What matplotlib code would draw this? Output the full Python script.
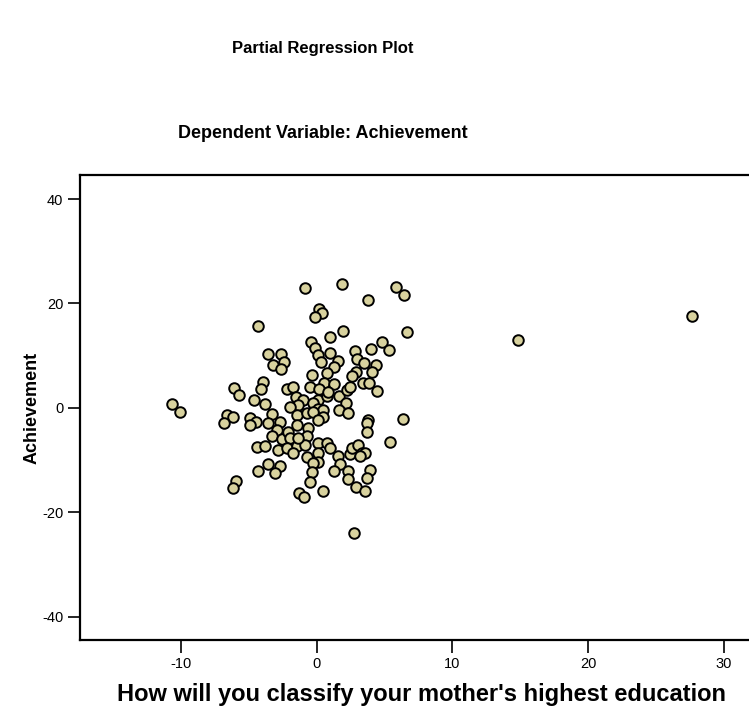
import numpy as np
import matplotlib.pyplot as plt

plt.rcParams['font.family'] = ['Liberation Sans', 'DejaVu Sans']
plt.rcParams['axes.unicode_minus'] = False

# Partial regression points (mother's education residual, achievement residual)
x_vals = [
    -10.70, -10.09, -4.35, -3.57, -2.63, -2.39, -3.20, -2.63, -3.94, -4.15,
    -6.10, -5.71, -4.63, -3.82, -2.19, -1.77, -1.56, -1.01, 0.12, 0.74,
    1.61, 2.21, -1.36, -1.97, -0.31, 0.12, 0.49, 0.44, 2.14, -0.84,
    1.87, 5.83, 6.42, 3.79, 0.17, 0.37, -0.13, 1.96, 0.98, 6.66,
    -0.42, -0.10, 0.12, 0.98, 1.59, 0.33, 1.23, 0.74, -0.35, 0.50,
    1.23, -0.49, 0.17, 0.81, 4.80, 5.36, 4.01, 2.83, 2.97, 3.51,
    4.38, 4.08, 2.86, 2.62, 2.46, 3.44, 3.86, 4.43, 1.67, 2.29,
    -1.48, -0.74, -0.25, 3.81, 6.39, -6.60, -6.15, -6.84, -4.92, -4.48,
    -4.92, -3.32, -2.71, -3.57, -2.95, -3.32, -2.58, -2.10, -1.48, -1.97,
    0.12, -0.62, -0.74, -4.43, -3.82, -2.83, -2.21, -1.48, -1.73, -0.86,
    -0.74, 0.12, 0.12, 0.74, 0.98, 0.12, -0.25, 1.54, 1.72, 1.23,
    2.29, 2.33, 2.46, -3.57, -2.71, -3.08, -4.35, -0.37, -0.49, -5.98,
    -6.20, -1.31, -0.92, 0.49, 2.75, 3.73, 3.73, 5.41, 2.58, 3.00,
    3.32, 3.56, 3.20, 3.93, 3.73, 2.90, 3.56, -1.36, 14.86, 27.70,
]
y_vals = [
    0.80, -0.77, 15.65, 10.29, 10.23, 8.81, 8.18, 7.36, 4.98, 3.54,
    3.77, 2.51, 1.42, 0.71, 3.64, 4.02, 2.11, 1.48, 1.48, 2.24,
    2.34, 3.39, 0.52, 0.19, 0.84, -0.25, -0.44, -1.72, 0.90, 22.87,
    23.70, 23.07, 21.53, 20.57, 18.85, 18.08, 17.43, 14.69, 13.60, 14.56,
    12.53, 11.38, 10.10, 10.50, 9.00, 8.81, 7.74, 6.59, 6.26, 4.73,
    4.60, 4.06, 3.62, 3.07, 12.64, 11.05, 11.30, 10.86, 9.37, 8.51,
    8.18, 6.90, 6.90, 6.00, 4.06, 4.67, 4.79, 3.26, -0.44, -1.07,
    -1.40, -1.07, -0.77, -2.36, -2.11, -1.46, -1.78, -2.99, -1.97, -2.68,
    -3.31, -1.21, -2.68, -2.99, -4.27, -5.42, -6.05, -4.60, -3.31, -5.86,
    -2.36, -3.95, -5.42, -7.47, -7.34, -8.10, -7.78, -7.34, -8.62, -7.15,
    -9.50, -6.82, -8.74, -6.82, -7.78, -10.34, -10.65, -9.16, -10.73, -12.03,
    -12.07, -13.60, -8.81, -10.79, -11.17, -12.45, -12.07, -12.26, -14.18, -13.98,
    -15.44, -16.40, -17.16, -15.96, -24.06, -2.99, -4.60, -6.57, -7.78, -7.15,
    -8.74, -8.62, -9.25, -11.93, -13.41, -15.13, -15.90, -5.86, 12.97, 17.62,
]

x_ticks = [-10, 0, 10, 20, 30]
y_ticks = [-40, -20, 0, 20, 40]

fig = plt.figure(figsize=(7.49, 7.06), dpi=100)
ax = fig.add_axes([80 / 749, 66 / 706, 672 / 749, 465 / 706])

ax.scatter(x_vals, y_vals, s=58, c='#d8d29e', edgecolors='black',
           linewidths=1.4, zorder=3)

ax.set_xlim(-17.47, 32.1)
ax.set_ylim(-44.5, 44.6)
ax.set_xticks(x_ticks)
ax.set_yticks(y_ticks)
ax.tick_params(direction='out', length=9, width=1.2, labelsize=10.5, pad=3)

for side in ['left', 'bottom', 'top', 'right']:
    ax.spines[side].set_linewidth(1.6)

ax.set_xlabel("How will you classify your mother's highest education",
              fontsize=17, fontweight='bold', labelpad=6)
ax.xaxis.set_label_coords(0.508, -0.092)
ax.set_ylabel('Achievement', fontsize=13, fontweight='bold', labelpad=1)

fig.text(323 / 749, 1 - 48 / 706, 'Partial Regression Plot',
         ha='center', va='center', fontsize=12, fontweight='bold')
fig.text(323 / 749, 1 - 133 / 706, 'Dependent Variable: Achievement',
         ha='center', va='center', fontsize=13, fontweight='bold')

fig.savefig('out.png', dpi=100)
